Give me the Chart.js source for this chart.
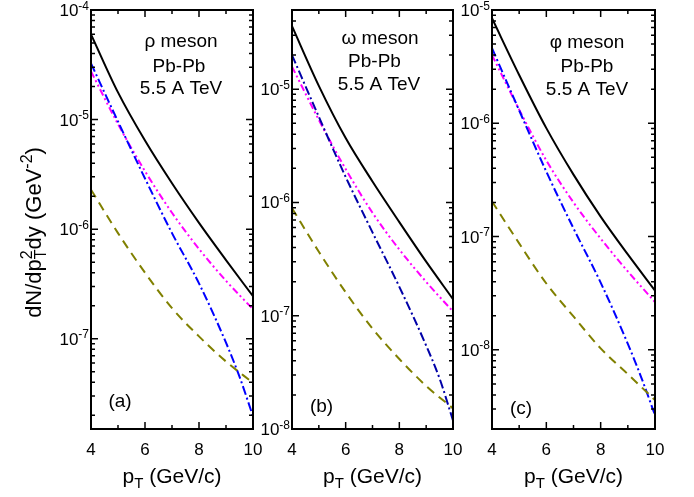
<!DOCTYPE html>
<html><head><meta charset="utf-8">
<script src="https://cdn.jsdelivr.net/npm/chart.js@4"></script>
<style>
html,body{margin:0;padding:0;background:#fff;}
#wrap{position:relative;width:694px;height:497px;background:#fff;}
canvas{position:absolute;left:0;top:0;}
</style></head><body>
<div id="wrap">
<canvas id="ca" width="694" height="497"></canvas>
<canvas id="cb" width="694" height="497"></canvas>
<canvas id="cc" width="694" height="497"></canvas>
</div>
<script>
// ---- data ----
const pT = [4, 5, 6, 7, 8, 9, 10];
const pTBlue = [4, 5, 6, 7, 8, 9, 9.5, 10];
const xTickLabels = [4, 6, 8, 10];

// (a) rho meson
const rhoSolid   = [6.0e-5, 1.77e-5, 6.43e-6, 2.62e-6, 1.14e-6, 5.22e-7, 2.44e-7];
const rhoMagenta = [2.75e-5, 9.1e-6, 3.38e-6, 1.41e-6, 6.6e-7, 3.38e-7, 1.86e-7];
const rhoBlue    = [3.25e-5, 9.6e-6, 2.9e-6, 9.2e-7, 3.2e-7, 9.2e-8, 4.5e-8, 1.96e-8];
const rhoOlive   = [2.29e-6, 9.2e-7, 4.0e-7, 1.9e-7, 1.05e-7, 6.2e-8, 3.95e-8];

// (b) omega meson
const omegaSolid   = [3.6e-5, 1.07e-5, 3.7e-6, 1.53e-6, 6.7e-7, 3.0e-7, 1.4e-7];
const omegaMagenta = [1.58e-5, 5.36e-6, 1.97e-6, 8.11e-7, 3.84e-7, 1.99e-7, 1.09e-7];
const omegaBlue    = [2.0e-5, 5.7e-6, 1.68e-6, 5.44e-7, 1.8e-7, 5.45e-8, 2.79e-8, 1.19e-8];
const omegaOlive   = [8.9e-7, 3.67e-7, 1.61e-7, 7.7e-8, 4.15e-8, 2.4e-8, 1.52e-8];

// (c) phi meson
const phiSolid   = [8.45e-6, 2.67e-6, 9.06e-7, 3.52e-7, 1.5e-7, 6.95e-8, 3.33e-8];
const phiMagenta = [4.0e-6, 1.32e-6, 4.7e-7, 2.0e-7, 9.6e-8, 4.92e-8, 2.64e-8];
const phiBlue    = [4.6e-6, 1.3e-6, 3.74e-7, 1.18e-7, 3.92e-8, 1.13e-8, 5.66e-9, 2.65e-9];
const phiOlive   = [2.04e-7, 8.7e-8, 3.85e-8, 1.97e-8, 1.03e-8, 6.1e-9, 3.6e-9];

// axis ranges
const yRangeA = [1.5e-8, 1e-4];
const yRangeB = [1e-8, 5e-5];
const yRangeC = [2e-9, 1e-5];

const panelTitles = {
  a: ['\u03C1 meson', 'Pb-Pb', '5.5 A TeV'],
  b: ['\u03C9 meson', 'Pb-Pb', '5.5 A TeV'],
  c: ['\u03C6 meson', 'Pb-Pb', '5.5 A TeV']
};
const panelTags = {a: '(a)', b: '(b)', c: '(c)'};

// ---- drawing helpers ----
const FONT = '"Liberation Sans", Arial, sans-serif';
function segWidth(ctx, s){
  if (s.stack){
    let w = 0;
    for (const p of s.stack){ ctx.font = p.s + 'px ' + FONT; w = Math.max(w, ctx.measureText(p.t).width); }
    return w;
  }
  ctx.font = s.s + 'px ' + FONT; return ctx.measureText(s.t).width;
}
function drawRich(ctx, segs, x, y, align){
  let total = 0; for (const s of segs) total += segWidth(ctx, s);
  let cx = align === 'center' ? x - total/2 : (align === 'right' ? x - total : x);
  ctx.textAlign = 'left'; ctx.textBaseline = 'alphabetic'; ctx.fillStyle = '#000';
  for (const s of segs){
    const w = segWidth(ctx, s);
    if (s.stack){
      for (const p of s.stack){ ctx.font = p.s + 'px ' + FONT; ctx.fillText(p.t, cx, y + (p.dy||0)); }
    } else {
      ctx.font = s.s + 'px ' + FONT; ctx.fillText(s.t, cx, y + (s.dy||0));
    }
    cx += w;
  }
}

function decoPlugin(cfg){
  return {
    id: 'deco',
    afterDraw(chart){
      const ctx = chart.ctx, a = chart.chartArea, xs = chart.scales.x, ys = chart.scales.y;
      ctx.save();
      ctx.strokeStyle = '#000';
      ctx.lineWidth = 1.5;
      ctx.beginPath();
      const e0 = Math.floor(Math.log10(ys.min)), e1 = Math.ceil(Math.log10(ys.max));
      const labels = [];
      for (let e = e0; e <= e1; e++){
        for (let m = 1; m <= 9; m++){
          const v = m * Math.pow(10, e);
          if (v < ys.min * 0.999 || v > ys.max * 1.001) continue;
          const py = ys.getPixelForValue(v);
          const L = m === 1 ? 7 : 4;
          ctx.moveTo(a.left, py); ctx.lineTo(a.left + L, py);
          ctx.moveTo(a.right, py); ctx.lineTo(a.right - L, py);
          if (m === 1) labels.push([e, py]);
        }
      }
      for (let v = 4; v <= 10; v++){
        const px = xs.getPixelForValue(v);
        const L = v % 2 === 0 ? 7 : 4;
        ctx.moveTo(px, a.bottom); ctx.lineTo(px, a.bottom - L);
        ctx.moveTo(px, a.top); ctx.lineTo(px, a.top + L);
      }
      ctx.stroke();
      ctx.lineWidth = 2;
      ctx.strokeRect(a.left, a.top, a.right - a.left, a.bottom - a.top);

      // y tick labels 10^e
      for (const [e, py] of labels){
        drawRich(ctx, [{t: '10', s: 17}, {t: String(e), s: 12, dy: -6.5}], a.left - 2, py + 6, 'right');
      }
      // x tick labels
      for (const v of xTickLabels){
        drawRich(ctx, [{t: String(v), s: 17}], xs.getPixelForValue(v), 454.5, 'center');
      }
      // x title
      drawRich(ctx, [{t: 'p', s: 21}, {t: 'T', s: 15, dy: 5}, {t: ' (GeV/c)', s: 21}], (a.left + a.right)/2, 483, 'center');
      // annotation
      const lines = panelTitles[cfg.key];
      for (let i = 0; i < 3; i++){
        drawRich(ctx, [{t: lines[i], s: 19}], cfg.annX[i], cfg.annY[i], 'center');
      }
      drawRich(ctx, [{t: panelTags[cfg.key], s: 19}], cfg.tagX, cfg.tagY, 'center');

      if (cfg.yTitle){
        ctx.save();
        ctx.translate(41, 232.5);
        ctx.rotate(-Math.PI/2);
        drawRich(ctx, [
          {t: 'dN/dp', s: 22},
          {stack: [{t: 'T', s: 16, dy: 5}, {t: '2', s: 16, dy: -9}]},
          {t: 'dy (GeV', s: 22},
          {t: '-2', s: 16, dy: -9},
          {t: ')', s: 22}
        ], 0, 0, 'center');
        ctx.restore();
      }
      ctx.restore();
    }
  };
}

function pts(xArr, yArr){ return xArr.map((x, i) => ({x: x, y: yArr[i]})); }

function makeChart(id, key, yRange, series, pad, blueColor, deco){
  const ds = [
    {data: pts(pT, series[3]), borderColor: '#808000', borderDash: [9, 6]},
    {data: pts(pTBlue, series[2]), borderColor: blueColor, borderDash: [9, 3, 2, 3]},
    {data: pts(pT, series[1]), borderColor: '#FF00FF', borderDash: [7, 3, 2, 3, 2, 3]},
    {data: pts(pT, series[0]), borderColor: '#000000', borderDash: []}
  ].map(d => Object.assign(d, {borderWidth: 2, pointRadius: 0, fill: false, cubicInterpolationMode: 'monotone'}));
  return new Chart(document.getElementById(id), {
    type: 'line',
    data: {datasets: ds},
    options: {
      responsive: false, animation: false, devicePixelRatio: 1,
      layout: {padding: pad},
      plugins: {legend: {display: false}, tooltip: {enabled: false}},
      scales: {
        x: {type: 'linear', min: 4, max: 10, display: false},
        y: {type: 'logarithmic', min: yRange[0], max: yRange[1], display: false}
      }
    },
    plugins: [decoPlugin(Object.assign({key: key}, deco))]
  });
}

makeChart('ca', 'a', yRangeA, [rhoSolid, rhoMagenta, rhoBlue, rhoOlive],
  {left: 91, right: 694 - 253, top: 10, bottom: 497 - 429}, '#0000FF',
  {annX: [181, 179, 181], annY: [47, 71.5, 94], tagX: 120, tagY: 407, yTitle: true});
makeChart('cb', 'b', yRangeB, [omegaSolid, omegaMagenta, omegaBlue, omegaOlive],
  {left: 292, right: 694 - 453, top: 10, bottom: 497 - 429}, '#0000A8',
  {annX: [380, 374.5, 379], annY: [43.5, 67, 90], tagX: 321.5, tagY: 412});
makeChart('cc', 'c', yRangeC, [phiSolid, phiMagenta, phiBlue, phiOlive],
  {left: 492, right: 694 - 655, top: 10, bottom: 497 - 429}, '#0000FF',
  {annX: [587, 587, 587], annY: [48, 71.5, 94.5], tagX: 521, tagY: 414});
</script>
</body></html>
